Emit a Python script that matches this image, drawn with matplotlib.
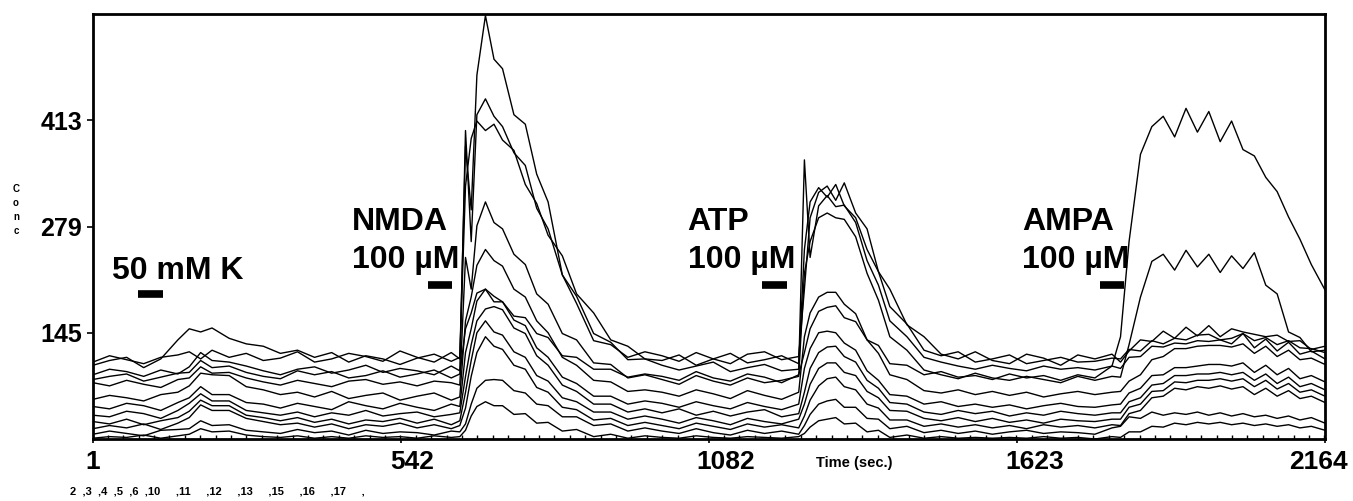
import matplotlib
matplotlib.use("Agg")
import matplotlib.pyplot as plt
import matplotlib.transforms as mtransforms
from matplotlib.ticker import MultipleLocator

plt.rcParams['font.family'] = ['Liberation Sans', 'DejaVu Sans']

# sample times (sec.)
time_s = [1, 30, 60, 90, 120, 150, 170, 190, 210, 240,
          270, 300, 330, 360, 390, 420, 450, 480, 510, 540,
          570, 600, 630, 645, 655, 665, 675, 690, 705, 720,
          740, 760, 780, 800, 825, 850, 880, 910, 940, 970,
          1000, 1030, 1060, 1090, 1120, 1150, 1180, 1210, 1240, 1250,
          1260, 1275, 1290, 1305, 1320, 1340, 1360, 1380, 1400, 1430,
          1460, 1490, 1520, 1550, 1580, 1610, 1640, 1670, 1700, 1730,
          1760, 1790, 1805, 1820, 1840, 1860, 1880, 1900, 1920, 1940,
          1960, 1980, 2000, 2020, 2040, 2060, 2080, 2100, 2120, 2140,
          2164]

# one trace per cell
cell_2 = [108, 116, 111, 106, 114, 117, 121, 112, 123, 114,
          119, 110, 113, 121, 108, 112, 119, 115, 109, 122,
          114, 108, 120, 112, 380, 300, 470, 545, 490, 478,
          420, 408, 345, 310, 218, 182, 135, 130, 114, 121,
          116, 109, 120, 112, 106, 118, 121, 111, 115, 200,
          290, 322, 330, 312, 334, 296, 276, 222, 200, 155,
          140, 118, 112, 121, 110, 106, 118, 113, 104, 117,
          112, 118, 108, 122, 136, 134, 147, 138, 152, 141,
          154, 140, 150, 146, 143, 140, 142, 134, 135, 124,
          128]
cell_3 = [104, 110, 114, 101, 112, 136, 150, 146, 151, 138,
          131, 128, 119, 123, 114, 120, 108, 116, 112, 105,
          113, 118, 109, 114, 330, 390, 412, 400, 408, 388,
          375, 332, 308, 268, 242, 194, 170, 136, 128, 112,
          110, 117, 104, 112, 119, 107, 111, 116, 106, 250,
          310, 328, 316, 332, 305, 290, 250, 222, 178, 156,
          123, 116, 121, 108, 112, 117, 106, 110, 114, 108,
          109, 113, 112, 124, 122, 135, 131, 138, 136, 142,
          143, 136, 138, 144, 135, 139, 130, 135, 126, 125,
          120]
cell_4 = [92, 99, 96, 90, 98, 93, 102, 120, 110, 108,
          103, 97, 92, 99, 102, 94, 98, 104, 95, 100,
          97, 92, 103, 97, 400, 260, 420, 440, 418, 405,
          372, 356, 302, 276, 218, 191, 144, 133, 111, 112,
          104, 98, 103, 108, 96, 101, 105, 97, 99, 363,
          240, 305, 318, 304, 306, 284, 236, 205, 160, 140,
          114, 108, 103, 99, 104, 100, 97, 103, 99, 101,
          98, 103, 100, 114, 115, 128, 127, 132, 131, 135,
          134, 136, 131, 144, 126, 137, 122, 133, 118, 122,
          112]
cell_5 = [82, 78, 85, 80, 76, 86, 88, 102, 94, 95,
          88, 83, 79, 85, 81, 77, 84, 86, 80, 83,
          78, 84, 82, 79, 240, 200, 280, 310, 284, 276,
          244, 231, 194, 181, 144, 136, 107, 105, 88, 92,
          86, 80, 91, 84, 79, 88, 82, 85, 90, 220,
          260, 290, 296, 290, 288, 266, 220, 186, 140, 123,
          98, 92, 87, 94, 88, 85, 90, 86, 82, 90,
          85, 90, 89, 130, 190, 235, 244, 224, 249, 228,
          244, 221, 242, 226, 246, 205, 194, 146, 139, 121,
          123]
cell_6 = [86, 90, 93, 84, 89, 94, 95, 110, 101, 103,
          95, 90, 87, 97, 92, 96, 88, 91, 97, 89,
          93, 98, 88, 93, 150, 170, 195, 200, 184, 184,
          166, 164, 144, 139, 116, 114, 99, 99, 89, 93,
          90, 85, 96, 88, 84, 93, 89, 82, 92, 120,
          150, 172, 177, 179, 164, 159, 136, 129, 106, 104,
          92, 96, 89, 91, 86, 93, 88, 91, 85, 92,
          88, 103, 140, 260, 370, 405, 418, 392, 428, 398,
          424, 386, 412, 376, 368, 341, 323, 291, 263, 231,
          199]
cell_10 = [61, 66, 63, 59, 67, 70, 78, 94, 92, 91,
           77, 73, 67, 70, 64, 71, 62, 66, 69, 60,
           65, 69, 60, 64, 160, 190, 230, 250, 236, 229,
           200, 190, 160, 145, 114, 104, 85, 83, 71, 73,
           70, 65, 73, 68, 62, 72, 66, 61, 70, 140,
           170, 190, 196, 196, 181, 169, 136, 119, 92, 86,
           72, 69, 73, 67, 71, 66, 70, 64, 68, 71,
           67, 70, 71, 84, 92, 111, 115, 125, 125, 128,
           129, 129, 127, 131, 119, 128, 115, 123, 111, 113,
           105]
cell_11 = [52, 49, 56, 53, 47, 57, 63, 77, 67, 67,
           57, 55, 50, 56, 52, 48, 58, 53, 49, 56,
           51, 47, 55, 52, 120, 150, 185, 200, 191, 184,
           161, 154, 126, 114, 89, 81, 65, 65, 55, 59,
           56, 51, 58, 53, 49, 57, 52, 48, 55, 100,
           125, 145, 147, 145, 132, 123, 97, 85, 67, 65,
           55, 58, 52, 55, 51, 54, 49, 53, 56, 52,
           51, 54, 55, 69, 75, 91, 92, 101, 101, 103,
           105, 105, 103, 107, 95, 104, 92, 100, 87, 91,
           83]
cell_12 = [41, 39, 46, 43, 37, 47, 56, 68, 59, 59,
           47, 44, 41, 45, 39, 44, 41, 47, 40, 43,
           45, 39, 42, 44, 90, 130, 160, 175, 178, 174,
           151, 144, 116, 104, 79, 71, 55, 55, 45, 49,
           44, 49, 41, 46, 40, 45, 48, 39, 43, 70,
           100, 120, 127, 128, 115, 108, 85, 75, 57, 55,
           45, 42, 47, 43, 46, 40, 44, 41, 46, 43,
           41, 44, 44, 58, 63, 79, 81, 91, 91, 93,
           93, 95, 92, 95, 85, 93, 81, 89, 77, 81,
           73]
cell_13 = [33, 30, 36, 29, 34, 38, 46, 60, 53, 53,
           41, 38, 34, 38, 32, 36, 30, 35, 33, 37,
           31, 36, 29, 34, 70, 110, 145, 160, 146, 142,
           121, 114, 91, 84, 63, 58, 45, 45, 36, 40,
           36, 31, 38, 34, 29, 37, 33, 30, 36, 55,
           80, 100, 107, 107, 95, 91, 71, 63, 47, 46,
           37, 34, 38, 33, 37, 32, 35, 31, 36, 34,
           33, 36, 36, 51, 55, 71, 72, 83, 82, 85,
           85, 87, 84, 87, 77, 85, 74, 81, 70, 73,
           65]
cell_15 = [24, 28, 25, 30, 23, 31, 38, 54, 47, 47,
           37, 33, 29, 31, 26, 30, 24, 29, 27, 31,
           25, 29, 24, 28, 50, 90, 120, 140, 128, 124,
           104, 99, 76, 70, 51, 48, 35, 37, 28, 32,
           28, 24, 31, 27, 23, 30, 26, 29, 25, 40,
           60, 78, 87, 89, 77, 73, 55, 50, 35, 35,
           27, 30, 26, 29, 25, 28, 24, 29, 26, 28,
           25, 29, 28, 43, 47, 63, 65, 75, 73, 77,
           75, 78, 74, 77, 67, 75, 65, 72, 62, 65,
           57]
cell_16 = [17, 21, 18, 15, 22, 23, 24, 34, 28, 29,
           22, 20, 18, 23, 19, 21, 16, 22, 18, 20,
           19, 16, 21, 20, 30, 55, 75, 85, 86, 85,
           72, 69, 55, 53, 39, 39, 28, 30, 21, 25,
           21, 18, 24, 19, 16, 22, 18, 21, 17, 28,
           42, 55, 59, 61, 51, 51, 37, 36, 24, 27,
           19, 22, 18, 21, 17, 20, 22, 18, 20, 19,
           17, 25, 27, 39, 37, 45, 41, 44, 42, 45,
           41, 44, 40, 43, 39, 41, 37, 40, 35, 38,
           31]
cell_17 = [12, 14, 13, 16, 12, 15, 17, 24, 20, 21,
           16, 14, 13, 15, 12, 14, 12, 15, 13, 14,
           12, 15, 13, 14, 22, 40, 52, 58, 53, 53,
           42, 43, 31, 32, 21, 23, 14, 17, 12, 15,
           13, 12, 15, 13, 12, 14, 13, 12, 14, 18,
           26, 34, 36, 38, 30, 31, 20, 22, 13, 16,
           12, 14, 12, 13, 12, 13, 12, 14, 12, 13,
           11, 14, 13, 20, 20, 27, 26, 31, 29, 32,
           30, 32, 29, 31, 28, 30, 27, 29, 25, 27,
           22]

cell_ids = [2, 3, 4, 5, 6, 10, 11, 12, 13, 15, 16, 17]
traces = [cell_2, cell_3, cell_4, cell_5, cell_6, cell_10,
          cell_11, cell_12, cell_13, cell_15, cell_16, cell_17]

# stimulus application bars (sec.) and labels
stim_labels = ["50 mM K", "NMDA\n100 \u00b5M", "ATP\n100 \u00b5M", "AMPA\n100 \u00b5M"]
stim_start = [80, 589, 1176, 1769]
stim_end = [124, 631, 1220, 1811]

x_ticks = [1, 542, 1082, 1623, 2164]
y_ticks = [145, 279, 413]

fig = plt.figure(figsize=(13.53, 5.01), dpi=100)
ax = fig.add_axes([93 / 1353, 1 - 439 / 501, 1232 / 1353, 425 / 501])

for tr in traces:
    ax.plot(time_s, tr, color='black', lw=1.0)

# stimulus bars + labels
bar_y = [194, 205, 205, 205]
label_x = [34, 455, 1045, 1632]
label_y = [213, 227, 227, 227]
for lab, s0, s1, by, lx, ly in zip(stim_labels, stim_start, stim_end, bar_y, label_x, label_y):
    ax.plot([s0, s1], [by, by], color='black', lw=5.5, solid_capstyle='butt')
    ax.text(lx, ly, lab, fontsize=23, fontweight='bold', ha='left', va='baseline',
            linespacing=1.35)

ax.set_xlim(1, 2164)
ax.set_ylim(11, 547)
for sp in ax.spines.values():
    sp.set_linewidth(2.0)

ax.set_yticks(y_ticks)
ax.set_yticklabels([str(v) for v in y_ticks], fontsize=18, fontweight='bold')
ax.tick_params(axis='y', direction='out', length=4, width=1.2, pad=4)

ax.set_xticks(x_ticks)
ax.set_xticklabels([])
ax.tick_params(axis='x', direction='out', length=3, width=1.2)
ax.xaxis.set_minor_locator(MultipleLocator(2163 / 80))
ax.tick_params(axis='x', which='minor', direction='in', length=3, width=1.0)

# x tick labels (slightly shifted as in the original)
xl_shift = [0, 8, 12, 13, -5]
for v, dx in zip(x_ticks, xl_shift):
    tr = mtransforms.blended_transform_factory(ax.transData, ax.transAxes)
    tr = tr + mtransforms.ScaledTranslation(dx / 72, 0, fig.dpi_scale_trans)
    ax.text(v, -0.025, str(v), transform=tr, fontsize=19, fontweight='bold',
            ha='center', va='top')

fig.text(854 / 1353, 1 - 463 / 501, "Time (sec.)", fontsize=10.5, fontweight='bold',
         ha='center', va='center')
fig.text(16 / 1353, 1 - 210 / 501, "C\no\nn\nc", fontsize=7, fontweight='bold',
         ha='center', va='center', linespacing=1.5)
ids_text = "".join(f"{c}  ," if c < 10 else f"{c}     ," for c in cell_ids)
fig.text(70 / 1353, 1 - 491 / 501, ids_text,
         fontsize=8, fontweight='bold', ha='left', va='center')

fig.savefig("out.png", dpi=100)
